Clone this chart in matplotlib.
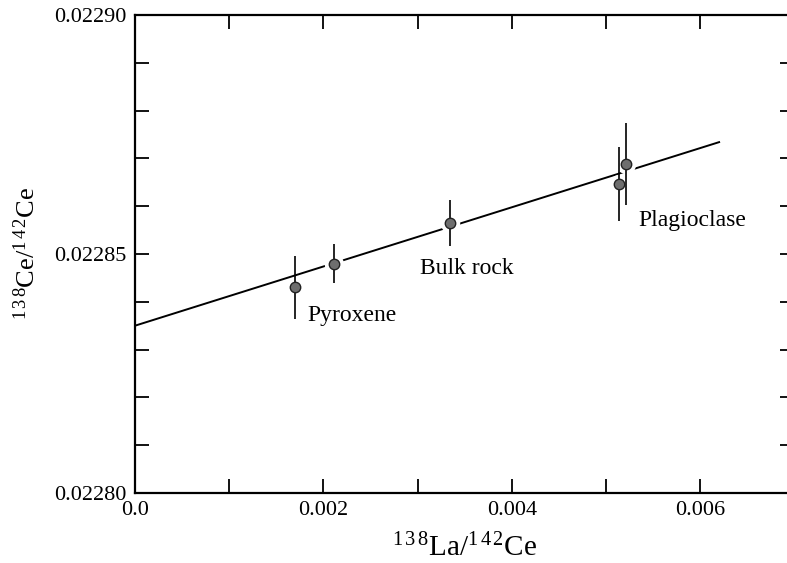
import numpy as np
import matplotlib
matplotlib.use("Agg")
import matplotlib.pyplot as plt
from matplotlib.ticker import MultipleLocator, FixedLocator

plt.rcParams["font.family"] = ["Liberation Serif", "DejaVu Serif"]
plt.rcParams["mathtext.fontset"] = "custom"
plt.rcParams["mathtext.rm"] = "Liberation Serif"
plt.rcParams["mathtext.it"] = "Liberation Serif:italic"

# measured points: 138La/142Ce, 138Ce/142Ce and 1-sigma error
la_ce = [0.00170, 0.00211, 0.00334, 0.00514, 0.00521]
ce_ce = [0.022843, 0.022848, 0.0228565, 0.0228646, 0.0228688]
ce_err = [0.0000066, 0.0000040, 0.0000048, 0.0000077, 0.0000086]

# isochron line endpoints
fit_x = [0.0, 0.0062]
fit_y = [0.022835, 0.0228734]

# sample labels
labels = ["Pyroxene", "Bulk rock", "Plagioclase"]
label_x = [0.00183, 0.00303, 0.00534]
label_y = [0.0228372, 0.022847, 0.022857]

fig = plt.figure(figsize=(7.87, 5.63), dpi=100)
ax = fig.add_axes([0.1715, 0.1243, 0.838, 0.8491])

ax.plot(fit_x, fit_y, color="black", lw=1.4, zorder=1)
# white halos to break the line around each point
ax.plot(la_ce, ce_ce, "o", ms=14, color="white", mec="none", zorder=2)
ax.errorbar(la_ce, ce_ce, yerr=ce_err, fmt="none", ecolor="black",
            elinewidth=1.2, capsize=0, zorder=3)
ax.plot(la_ce, ce_ce, "o", ms=7.5, mfc="#6e6e6e", mec="#222222", mew=1.0, zorder=4)

for t, x, y in zip(labels, label_x, label_y):
    ax.text(x, y, t, fontsize=17, ha="left", va="center")

ax.set_xlim(0.0, 0.007)
ax.set_ylim(0.02280, 0.02290)
ax.xaxis.set_major_locator(FixedLocator([0.0, 0.002, 0.004, 0.006]))
ax.xaxis.set_minor_locator(MultipleLocator(0.001))
ax.yaxis.set_major_locator(FixedLocator([0.02280, 0.02285, 0.02290]))
ax.yaxis.set_minor_locator(MultipleLocator(0.00001))
ax.set_xticklabels(["0.0", "0.002", "0.004", "0.006"])
ax.set_yticklabels(["0.02280", "0.02285", "0.02290"])

ax.tick_params(which="both", direction="in", top=True, right=True,
               length=10, width=1.3, labelsize=16, pad=6)
for s in ax.spines.values():
    s.set_linewidth(1.6)

ax.set_xlabel(r"$^{1\,3\,8}$La/$^{1\,4\,2}$Ce", fontsize=21, labelpad=10)
ax.set_ylabel(r"$^{1\,3\,8}$Ce/$^{1\,4\,2}$Ce", fontsize=19, labelpad=10)

fig.savefig("out.png", dpi=100)
